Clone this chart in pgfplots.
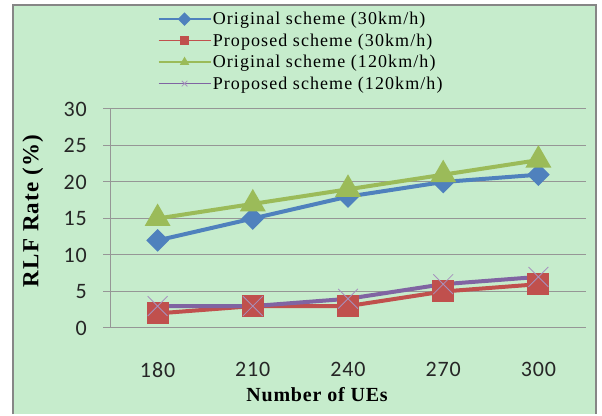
\documentclass[border=0pt]{standalone}
\usepackage{pgfplots}
\pgfplotsset{compat=1.18}
\usepackage{fontspec}
\setmainfont{Liberation Serif}
\newfontfamily\calib[LetterSpace=4]{Carlito}
\newfontfamily\legfont[LetterSpace=6]{Liberation Serif}
\newfontfamily\labfont[LetterSpace=4]{Liberation Serif}
\newfontfamily\ylabfont[LetterSpace=5]{Liberation Serif}
\definecolor{bg}{RGB}{198,236,204}
\definecolor{frame}{RGB}{134,134,134}
\definecolor{gridc}{RGB}{150,150,150}
\definecolor{cblue}{RGB}{79,129,189}
\definecolor{cred}{RGB}{192,80,77}
\definecolor{cgreen}{RGB}{155,187,89}
\definecolor{cpurple}{RGB}{128,100,162}
\begin{document}
\begin{tikzpicture}
  % chart area: white page, green panel with grey frame
  \fill[white] (0pt,0pt) rectangle (602pt,414pt);
  \fill[bg] (13pt,0pt) rectangle (596pt,408.5pt);
  \draw[frame,line width=2pt] (13pt,0pt) -- (13pt,408.5pt) -- (596pt,408.5pt) -- (596pt,0pt);
  \begin{axis}[
    at={(110pt,86pt)}, anchor=south west,
    scale only axis, width=476pt, height=219pt,
    xmin=-0.5, xmax=4.5, ymin=0, ymax=30,
    xtick=data, xticklabels={180,210,240,270,300},
    ytick={0,5,...,30},
    axis lines*=left,
    axis line style={gridc, line width=1pt},
    ymajorgrids, major grid style={gridc, line width=1pt},
    tick align=outside, major tick length=7pt,
    xtick style={draw=none},
    ytick style={gridc, line width=1pt},
    /pgf/number format/assume math mode=true,
    ticklabel style={font=\calib\fontsize{22}{24}\selectfont, text=black!85},
    yticklabel style={inner sep=0pt, xshift=-16pt},
    xticklabel style={inner sep=0pt, yshift=-27pt},
    every axis x label/.style={at={(axis description cs:0.435,-0.306)}, anchor=center,
      font=\labfont\bfseries\fontsize{20}{22}\selectfont},
    every axis y label/.style={at={(axis description cs:-0.162,0.534)}, rotate=90, anchor=center,
      font=\ylabfont\bfseries\fontsize{23}{25}\selectfont},
    xlabel={Number of UEs},
    ylabel={RLF Rate (\%)},
    legend style={draw=none, fill=none, at={(axis description cs:0.1,1.45)}, anchor=north west,
      font=\legfont\fontsize{18}{20}\selectfont, row sep=4.5pt, inner sep=0pt,
      nodes={inner sep=1.5pt}},
    legend cell align=left,
    legend image code/.code={\draw[line width=1.5pt, mark size=4pt, mark repeat=2, mark phase=2]
      plot coordinates {(0pt,0pt) (26pt,0pt) (52pt,0pt)};},
  ]
    \addplot[cblue, line width=4pt, mark=square*, mark size=6pt, mark options={rotate=45, draw=none, fill=cblue}]
      coordinates {(0,12) (1,15) (2,18) (3,20) (4,21)};
    \addlegendentry{Original scheme (30km/h)}
    \addplot[cred, line width=4pt, mark=square*, mark size=9pt, mark options={draw=none, fill=cred}]
      coordinates {(0,2) (1,3) (2,3) (3,5) (4,6)};
    \addlegendentry{Proposed scheme (30km/h)}
    \addplot[cgreen, line width=4pt, mark=triangle*, mark size=11pt, mark options={draw=none, fill=cgreen}]
      coordinates {(0,15) (1,17) (2,19) (3,21) (4,23)};
    \addlegendentry{Original scheme (120km/h)}
    \addplot[cpurple, line width=4pt, mark=x, mark size=14pt, mark options={line width=0.8pt, draw=cpurple!70}]
      coordinates {(0,3) (1,3) (2,4) (3,6) (4,7)};
    \addlegendentry{Proposed scheme (120km/h)}
  \end{axis}
\end{tikzpicture}
\end{document}
